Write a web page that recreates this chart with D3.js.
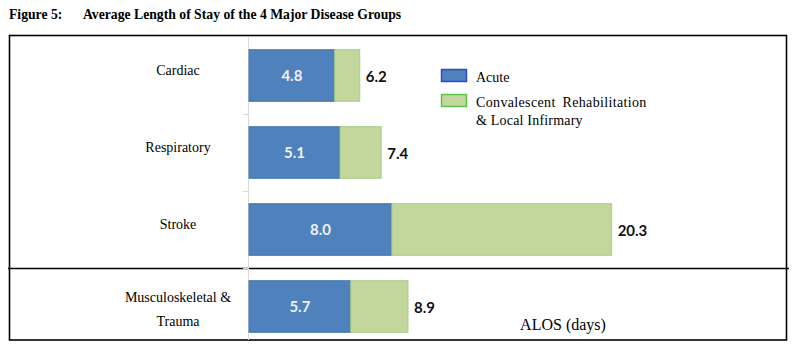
<!DOCTYPE html>
<html><head><meta charset="utf-8">
<script src="https://cdn.jsdelivr.net/npm/d3@7"></script>
<style>html,body{margin:0;padding:0;background:#fff;}svg{display:block;}</style>
</head><body>
<script>
const categories = ["Cardiac", "Respiratory", "Stroke", "Musculoskeletal & Trauma"];
const acute = [4.8, 5.1, 8.0, 5.7];
const convalescent = [1.4, 2.3, 12.3, 3.2];
const totals = [6.2, 7.4, 20.3, 8.9];
const seriesNames = ["Acute", "Convalescent Rehabilitation & Local Infirmary"];
const titleLead = "Figure 5:";
const titleText = "Average Length of Stay of the 4 Major Disease Groups";
const xTitle = "ALOS (days)";

const W = 794, H = 347;
const svg = d3.select("body").append("svg").attr("width", W).attr("height", H);

const rows = categories.map((c, i) => ({cat: c, acute: acute[i], conv: convalescent[i], total: totals[i]}));
const stack = d3.stack().keys(["acute", "conv"])(rows);

const x = d3.scaleLinear().domain([0, 22]).range([249, 642]);
const y = d3.scaleBand().domain(categories).range([37, 345]).paddingInner(0.33).paddingOuter(0.165);

// title
const gt = svg.append("g").style("font-family", "'Liberation Serif', serif").style("font-weight", "bold").style("font-size", "13.7px");
gt.append("text").attr("x", 9).attr("y", 19).text(titleLead);
gt.append("text").attr("x", 83).attr("y", 19).text(titleText);

// frame
svg.append("rect").attr("x", 9.5).attr("y", 35.5).attr("width", 777).attr("height", 304.5)
  .attr("fill", "none").attr("stroke", "#000").attr("stroke-width", 1.6);
svg.append("line").attr("x1", 8).attr("x2", 789).attr("y1", 268.5).attr("y2", 268.5)
  .attr("stroke", "#000").attr("stroke-width", 1.6);

// axis line and ticks at band boundaries
const gAxis = svg.append("g");
gAxis.append("line").attr("x1", 248.5).attr("x2", 248.5).attr("y1", 37).attr("y2", 340)
  .attr("stroke", "#d9d9d9").attr("stroke-width", 1);
const boundaries = categories.slice(1).map(c => y(c) - y.step() * y.paddingInner() / 2);
gAxis.selectAll("line.tick").data(boundaries).join("line").attr("class", "tick")
  .attr("x1", 243).attr("x2", 248.5).attr("y1", d => Math.round(d) + 0.5).attr("y2", d => Math.round(d) + 0.5)
  .attr("stroke", "#d9d9d9");

const colors = {acute: "#4F81BD", conv: "#C3D69B"};
const strokes = {acute: "#4A76AE", conv: "#A8CF88"};

svg.append("g").selectAll("g").data(stack).join("g")
  .attr("fill", d => colors[d.key]).attr("stroke", d => strokes[d.key])
  .selectAll("rect").data(d => d).join("rect")
  .attr("x", d => x(d[0])).attr("width", d => x(d[1]) - x(d[0]))
  .attr("y", d => y(d.data.cat)).attr("height", y.bandwidth());

// acute labels
svg.append("g").selectAll("text").data(rows).join("text")
  .attr("x", d => (x(0) + x(d.acute)) / 2).attr("y", d => y(d.cat) + y.bandwidth() / 2 + 5.5)
  .attr("text-anchor", "middle").attr("fill", "#eef2f8")
  .style("font-family", "Lato, 'Liberation Sans', sans-serif").style("font-weight", "bold").style("font-size", "15px")
  .text(d => d.acute.toFixed(1));

// total labels
svg.append("g").selectAll("text").data(rows).join("text")
  .attr("x", d => x(d.acute + d.conv) + 6).attr("y", d => y(d.cat) + y.bandwidth() / 2 + 6)
  .attr("fill", "#111")
  .style("font-family", "Lato, 'Liberation Sans', sans-serif").style("font-weight", "bold").style("font-size", "15px")
  .text(d => d.total.toFixed(1));

// category labels
const catLines = {"Musculoskeletal & Trauma": ["Musculoskeletal &", "Trauma"]};
const gCat = svg.append("g").style("font-family", "'Liberation Serif', serif").style("font-size", "14px").attr("text-anchor", "middle");
rows.forEach(d => {
  const lines = catLines[d.cat] || [d.cat];
  const cy = y(d.cat) + y.bandwidth() / 2;
  const lh = 24;
  const off = lines.length > 1 ? 7 : -1;
  lines.forEach((t, i) => {
    gCat.append("text").attr("x", 178)
      .attr("y", cy + off + (i - (lines.length - 1) / 2) * lh)
      .text(t);
  });
});

// legend
const lg = svg.append("g").style("font-family", "'Liberation Serif', serif").style("font-size", "14px");
lg.append("rect").attr("x", 441.5).attr("y", 69.5).attr("width", 25).attr("height", 12)
  .attr("fill", colors.acute).attr("stroke", "#2E49CC").attr("stroke-width", 1.5);
lg.append("text").attr("x", 476).attr("y", 82).text(seriesNames[0]);
lg.append("rect").attr("x", 441.5).attr("y", 94.5).attr("width", 25).attr("height", 12)
  .attr("fill", colors.conv).attr("stroke", "#5CC64A").attr("stroke-width", 1.5);
lg.append("text").attr("x", 476).attr("y", 107).style("word-spacing", "3px").style("letter-spacing", "0.35px").text("Convalescent Rehabilitation");
lg.append("text").attr("x", 476).attr("y", 125).style("letter-spacing", "0.2px").text("& Local Infirmary");

// x title
svg.append("text").attr("x", 563).attr("y", 330).attr("text-anchor", "middle")
  .style("font-family", "'Liberation Serif', serif").style("font-size", "16px")
  .text(xTitle);
</script>
</body></html>
